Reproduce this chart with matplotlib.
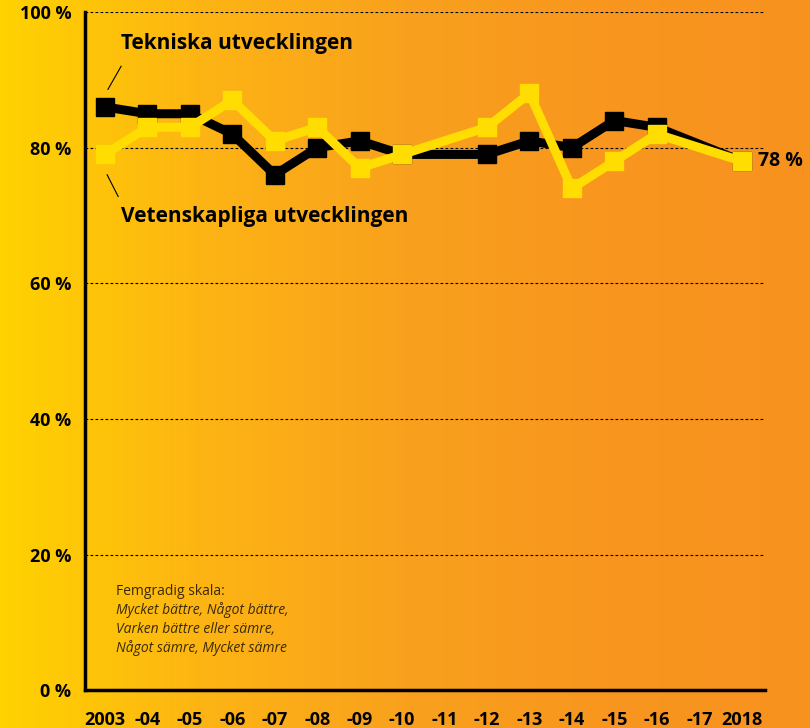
import numpy as np
import matplotlib.pyplot as plt
from matplotlib.colors import LinearSegmentedColormap

plt.rcParams['font.family'] = ['Open Sans', 'DejaVu Sans']

# Data
tick_years = list(range(2003, 2019))
tick_labels = ['2003', '-04', '-05', '-06', '-07', '-08', '-09', '-10',
               '-11', '-12', '-13', '-14', '-15', '-16', '-17', '2018']

tek_years = [2003, 2004, 2005, 2006, 2007, 2008, 2009, 2010, 2012, 2013, 2014, 2015, 2016, 2018]
tek_vals = [86, 85, 85, 82, 76, 80, 81, 79, 79, 81, 80, 84, 83, 78]

vet_years = [2003, 2004, 2005, 2006, 2007, 2008, 2009, 2010, 2012, 2013, 2014, 2015, 2016, 2018]
vet_vals = [79, 83, 83, 87, 81, 83, 77, 79, 83, 88, 74, 78, 82, 78]

y_ticks = [0, 20, 40, 60, 80, 100]

fig = plt.figure(figsize=(8.1, 7.28), dpi=100)

# gradient background
bg = fig.add_axes([0, 0, 1, 1], zorder=-10)
cmap = LinearSegmentedColormap.from_list(
    'bg', [(0, '#FFD200'), (0.25, '#FDB414'), (0.5, '#F9A11D'),
           (0.75, '#F8961E'), (1, '#F7921E')])
bg.imshow(np.linspace(0, 1, 256).reshape(1, -1), aspect='auto', cmap=cmap,
          extent=[0, 1, 0, 1])
bg.axis('off')

ax = fig.add_axes([0.105, 0.052, 0.839, 0.9315])
ax.patch.set_alpha(0)
ax.set_xlim(2002.53, 2018.54)
ax.set_ylim(0, 100)

for y in y_ticks[1:]:
    ax.axhline(y, color='black', lw=0.8, ls=(0, (2.5, 2)), zorder=1)

ax.plot(tek_years, tek_vals, color='black', lw=6.5, marker='s', ms=12.5,
        solid_joinstyle='miter', zorder=3)
ax.plot(vet_years, vet_vals, color='#FFDD00', lw=6.5, marker='s', ms=12.5,
        solid_joinstyle='miter', zorder=4)

for s in ['top', 'right']:
    ax.spines[s].set_visible(False)
for s in ['left', 'bottom']:
    ax.spines[s].set_linewidth(2.5)

ax.set_yticks(y_ticks)
ax.set_yticklabels([f'{v} %' for v in y_ticks], fontsize=13, fontweight='bold')
ax.set_xticks(tick_years)
ax.set_xticklabels(tick_labels, fontsize=13, fontweight='bold')
ax.tick_params(axis='y', length=0, pad=10)
ax.tick_params(axis='x', length=0, pad=15)

ax.text(2003.38, 95.3, 'Tekniska utvecklingen', fontsize=15, fontweight='bold',
        ha='left', va='center')
ax.text(2003.38, 69.8, 'Vetenskapliga utvecklingen', fontsize=15, fontweight='bold',
        ha='left', va='center')
ax.plot([2003.07, 2003.38], [88.6, 92.0], color='black', lw=0.8)
ax.plot([2003.05, 2003.31], [76.0, 72.8], color='black', lw=0.8)

ax.text(2018.38, 78, '78 %', fontsize=14, fontweight='bold', ha='left', va='center')

ax.text(2003.25, 14.5, 'Femgradig skala:', fontsize=10, color='#3a2a05', va='center')
notes = ['Mycket bättre, Något bättre,', 'Varken bättre eller sämre,',
         'Något sämre, Mycket sämre']
for i, t in enumerate(notes):
    ax.text(2003.25, 11.8 - i * 2.8, t, fontsize=10, style='italic',
            color='#3a2a05', va='center')

fig.savefig('out.png', dpi=100)
